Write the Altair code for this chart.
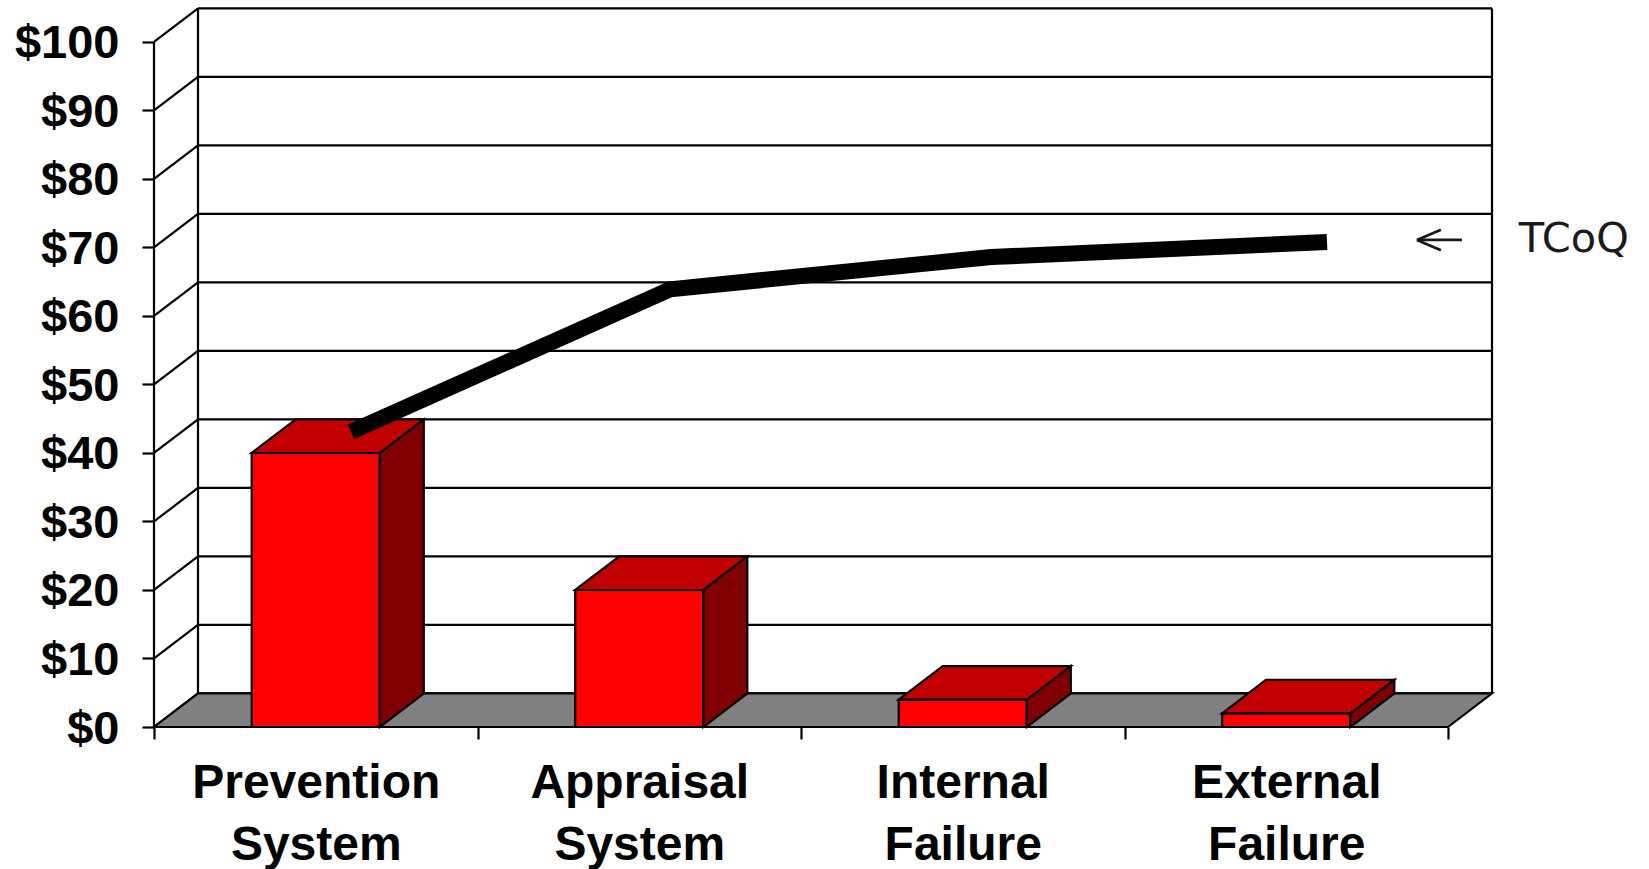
import altair as alt
import pandas as pd

# Chart values
categories = ["Prevention System", "Appraisal System", "Internal Failure", "External Failure"]
bar_values = [40, 20, 4, 2]
tcoq_positions = [0.609, 1.596, 2.588, 3.626]
tcoq_values = [43.1, 63.9, 68.6, 70.8]
y_ticks = list(range(0, 101, 10))
x_ticks = [0, 1, 2, 3, 4]

# Scale extents and the pseudo-3D depth, in data units
X_MAX = 4.6213
Y_MAX = 106.13
DEPTH_X = 0.136
DEPTH_Y = 4.9
BAR_HALF = 0.198

x_scale = alt.Scale(domain=[0, X_MAX], nice=False, zero=False)
y_scale = alt.Scale(domain=[0, Y_MAX], nice=False, zero=False)

LINE = 2.2

# Value axis and category axis, shared by every layer so Vega-Lite merges them
y_axis = alt.Axis(
    values=y_ticks,
    labelExpr="'$' + datum.value",
    title=None,
    domain=False,
    grid=False,
    tickSize=12,
    tickWidth=LINE,
    tickColor="black",
    labelFont="Liberation Sans",
    labelFontWeight="bold",
    labelFontSize=47,
    labelColor="black",
    labelPadding=23,
    labelOffset=2,
    labelOverlap=False,
    labelFlush=False,
    labelLimit=0,
)
label_expr = "datum.value % 1 == 0 ? '' : [" + ",".join(
    "['%s','%s']" % tuple(c.split(" ")) for c in categories
) + "][floor(datum.value)]"
x_axis = alt.Axis(
    values=sorted(x_ticks + [i + 0.5 for i in range(4)]),
    labelExpr=label_expr,
    title=None,
    domain=False,
    grid=False,
    tickSize=12,
    tickWidth=LINE,
    tickColor={"condition": {"test": "datum.value % 1 != 0", "value": "transparent"}, "value": "black"},
    labelFont="Liberation Sans",
    labelFontWeight="bold",
    labelFontSize=48,
    labelColor="black",
    labelAngle=0,
    labelPadding=20,
    labelLineHeight=62,
    labelOverlap=False,
    labelFlush=False,
    labelBaseline="top",
    labelLimit=0,
)


def X(**kw):
    return alt.X("x:Q", scale=x_scale, axis=x_axis, **kw)


def Y(**kw):
    return alt.Y("y:Q", scale=y_scale, axis=y_axis, **kw)


def seg(x, y, x2, y2):
    return {"x": x, "y": y, "x2": x2, "y2": y2}


# Back wall and side wall gridlines
wall = []
for t in y_ticks:
    wall.append(seg(DEPTH_X, t + DEPTH_Y, 4 + DEPTH_X, t + DEPTH_Y))
    wall.append(seg(0, t, DEPTH_X, t + DEPTH_Y))
wall.append(seg(DEPTH_X, DEPTH_Y, DEPTH_X, 100 + DEPTH_Y))
wall.append(seg(4 + DEPTH_X, DEPTH_Y, 4 + DEPTH_X, 100 + DEPTH_Y))
wall.append(seg(0, 0, 0, 100))

wall_layer = alt.Chart(pd.DataFrame(wall)).mark_rule(color="black", strokeWidth=LINE).encode(
    x=X(), y=Y(), x2="x2:Q", y2="y2:Q"
)

# Grey floor
floor = pd.DataFrame([
    {"y": 0, "x": 0, "x2": 4},
    {"y": DEPTH_Y, "x": DEPTH_X, "x2": 4 + DEPTH_X},
])
floor_layer = alt.Chart(floor).mark_area(
    orient="horizontal", color="#808080", stroke="black", strokeWidth=LINE
).encode(y=Y(), x=X(stack=None), x2="x2:Q")

# Bar faces
fronts, sides, tops = [], [], []
for i, v in enumerate(bar_values):
    left, right = i + 0.5 - BAR_HALF, i + 0.5 + BAR_HALF
    fronts.append({"x": left, "x2": right, "y": v, "y2": 0})
    sides += [
        {"bar": i, "x": right, "y": v, "y2": 0},
        {"bar": i, "x": right + DEPTH_X, "y": v + DEPTH_Y, "y2": DEPTH_Y},
    ]
    tops += [
        {"bar": i, "y": v, "x": left, "x2": right},
        {"bar": i, "y": v + DEPTH_Y, "x": left + DEPTH_X, "x2": right + DEPTH_X},
    ]

front_layer = alt.Chart(pd.DataFrame(fronts)).mark_rect(
    color="#ff0000", stroke="black", strokeWidth=LINE
).encode(x=X(), x2="x2:Q", y=Y(), y2="y2:Q")
side_layer = alt.Chart(pd.DataFrame(sides)).mark_area(
    orient="vertical", color="#800000", stroke="black", strokeWidth=LINE
).encode(x=X(), y=Y(stack=None), y2="y2:Q", detail="bar:N")
top_layer = alt.Chart(pd.DataFrame(tops)).mark_area(
    orient="horizontal", color="#c00000", stroke="black", strokeWidth=LINE
).encode(y=Y(), x=X(stack=None), x2="x2:Q", detail="bar:N")

# Total cost of quality line
tcoq_layer = alt.Chart(pd.DataFrame({"x": tcoq_positions, "y": tcoq_values})).mark_line(
    color="black", strokeWidth=16, strokeCap="butt", strokeJoin="miter"
).encode(x=X(), y=Y())

# Arrow pointing from the label back at the line's end
arrow = pd.DataFrame([
    seg(3.904, 71.1, 4.043, 71.1),
    seg(3.904, 71.1, 3.978, 72.6),
    seg(3.904, 71.1, 3.978, 69.6),
])
arrow_layer = alt.Chart(arrow).mark_rule(color="#1a1a1a", strokeWidth=2.8).encode(
    x=X(), y=Y(), x2="x2:Q", y2="y2:Q"
)
note_layer = alt.Chart(pd.DataFrame({"x": [4.219], "y": [tcoq_values[-1]], "t": ["TCoQ"]})).mark_text(
    font="DejaVu Sans", fontSize=41.5, color="#1a1a1a", align="left", baseline="middle", dy=-2
).encode(x=X(), y=Y(), text="t:N")

chart = alt.layer(
    wall_layer, floor_layer, front_layer, side_layer, top_layer, tcoq_layer, arrow_layer, note_layer
).properties(
    width=1495,
    height=727,
    padding={"left": 154, "top": 0, "right": 0, "bottom": 142},
    autosize=alt.AutoSizeParams(type="none"),
    background="white",
).configure_view(stroke=None)

chart.save("out.html", embed_options={"renderer": "svg", "actions": False})
